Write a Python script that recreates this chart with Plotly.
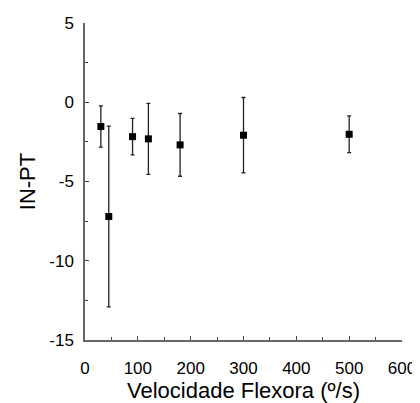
import plotly.graph_objects as go

velocidade = [30, 45, 90, 120, 180, 300, 500]
in_pt = [-1.53, -7.21, -2.17, -2.31, -2.69, -2.08, -2.02]
erro = [1.3, 5.7, 1.15, 2.24, 1.98, 2.38, 1.16]

x_ticks = [0, 100, 200, 300, 400, 500, 600]
y_ticks = [5, 0, -5, -10, -15]

fig = go.Figure()
fig.add_trace(go.Scatter(
    x=velocidade, y=in_pt, mode="markers",
    marker=dict(symbol="square", size=7, color="black"),
    error_y=dict(type="data", array=erro, visible=True, color="#222222", thickness=1.3, width=2),
    showlegend=False,
))

axis_common = dict(
    showline=True, linecolor="#666666", linewidth=1.5, mirror=False,
    ticks="inside", ticklen=4, tickwidth=1, tickcolor="#444444",
    showgrid=False, zeroline=False, automargin=False,
    tickfont=dict(family="Liberation Sans, Arial", size=17, color="black"),
)

fig.update_layout(
    width=412, height=395,
    margin=dict(l=77, r=18, t=15, b=63),
    plot_bgcolor="white", paper_bgcolor="white",
    xaxis=dict(range=[0, 600], tickvals=x_ticks, ticktext=[str(v) for v in x_ticks],
               minor=dict(ticks="inside", ticklen=3, tickcolor="#444444", dtick=50),
               ticklabelstandoff=12,
               title=dict(text="Velocidade Flexora (º/s)", font=dict(family="Liberation Sans, Arial", size=22, color="black"), standoff=6),
               **axis_common),
    yaxis=dict(range=[-15, 5], tickvals=y_ticks, ticktext=[str(v) for v in y_ticks],
               minor=dict(ticks="inside", ticklen=3, tickcolor="#444444", dtick=2.5),
               ticklabelstandoff=6,
               title=dict(text="IN-PT", font=dict(family="Liberation Sans, Arial", size=22, color="black"), standoff=8),
               **axis_common),
)

fig.write_html("out.html")
